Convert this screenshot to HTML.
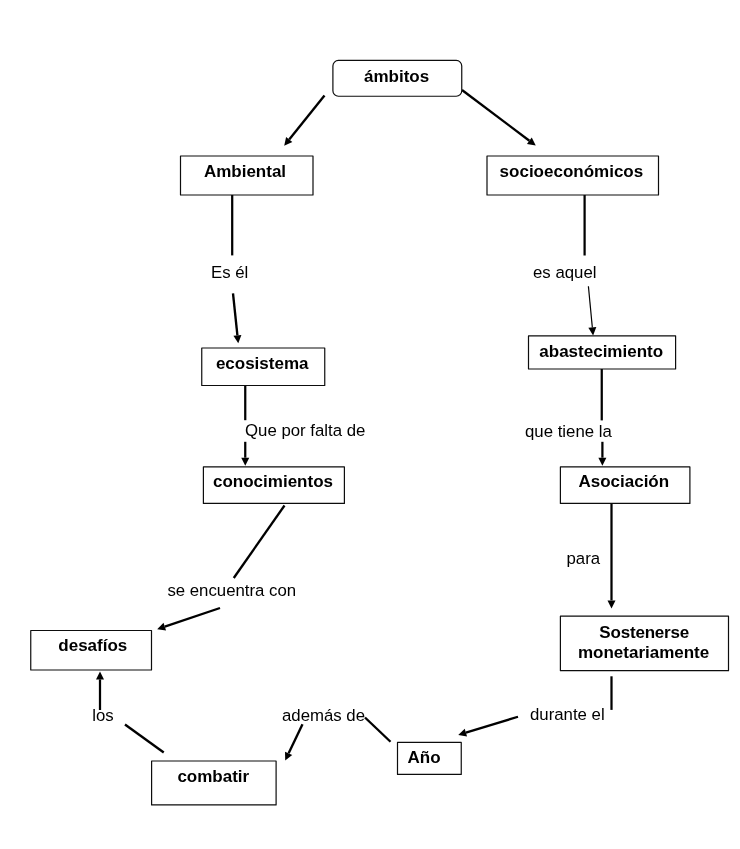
<!DOCTYPE html>
<html lang="es"><head><meta charset="utf-8"><title>Mapa conceptual</title>
<style>
html,body{margin:0;padding:0;background:#fff;}
svg{display:block;filter:grayscale(1);}
text{font-family:"Liberation Sans",sans-serif;fill:#000;}
.b{font-weight:bold;font-size:17px;}
.l{font-size:16.8px;}
</style></head><body>
<svg width="740" height="849" viewBox="0 0 740 849">
<rect width="740" height="849" fill="#fff"/>

<line x1="324.5" y1="95.5" x2="289.21" y2="139.46" stroke="#000" stroke-width="2.35"/>
<polygon points="284.2,145.7 286.09,136.96 292.33,141.97" fill="#000"/>
<line x1="462" y1="90" x2="529.36" y2="140.69" stroke="#000" stroke-width="2.35"/>
<polygon points="535.75,145.5 526.95,143.89 531.76,137.49" fill="#000"/>
<line x1="232.2" y1="195" x2="232.2" y2="255.4" stroke="#000" stroke-width="2.25"/>
<line x1="233" y1="293.4" x2="237.41" y2="335.34" stroke="#000" stroke-width="2.35"/>
<polygon points="238.25,343.3 233.43,335.76 241.39,334.93" fill="#000"/>
<line x1="584.6" y1="195" x2="584.6" y2="255.5" stroke="#000" stroke-width="2.25"/>
<line x1="588.4" y1="286.3" x2="592.34" y2="327.44" stroke="#000" stroke-width="1.2"/>
<polygon points="593.1,335.4 588.36,327.82 596.32,327.06" fill="#000"/>
<line x1="245.25" y1="385.5" x2="245.25" y2="420.2" stroke="#000" stroke-width="2.25"/>
<line x1="245.25" y1="441.8" x2="245.25" y2="457.70" stroke="#000" stroke-width="2.25"/>
<polygon points="245.25,465.7 241.25,457.70 249.25,457.70" fill="#000"/>
<line x1="601.75" y1="369" x2="601.75" y2="420.4" stroke="#000" stroke-width="2.25"/>
<line x1="602.4" y1="441.8" x2="602.40" y2="457.70" stroke="#000" stroke-width="2.25"/>
<polygon points="602.4,465.7 598.40,457.70 606.40,457.70" fill="#000"/>
<line x1="611.5" y1="503" x2="611.50" y2="600.40" stroke="#000" stroke-width="2.25"/>
<polygon points="611.5,608.4 607.50,600.40 615.50,600.40" fill="#000"/>
<line x1="284.5" y1="505.5" x2="233.75" y2="578" stroke="#000" stroke-width="2.35"/>
<line x1="220" y1="608" x2="164.78" y2="626.64" stroke="#000" stroke-width="2.35"/>
<polygon points="157.2,629.2 163.50,622.85 166.06,630.43" fill="#000"/>
<line x1="100" y1="710" x2="100.00" y2="679.40" stroke="#000" stroke-width="2.25"/>
<polygon points="100,671.4 104.00,679.40 96.00,679.40" fill="#000"/>
<line x1="125" y1="724.5" x2="163.75" y2="752.5" stroke="#000" stroke-width="2.35"/>
<line x1="302.5" y1="724.2" x2="288.63" y2="753.37" stroke="#000" stroke-width="2.35"/>
<polygon points="285.2,760.6 285.02,751.66 292.25,755.09" fill="#000"/>
<line x1="365" y1="717.5" x2="390.5" y2="741.75" stroke="#000" stroke-width="2.35"/>
<line x1="518" y1="716.75" x2="465.90" y2="732.66" stroke="#000" stroke-width="2.35"/>
<polygon points="458.25,735 464.73,728.84 467.07,736.49" fill="#000"/>
<line x1="611.5" y1="676.3" x2="611.5" y2="709.9" stroke="#000" stroke-width="2.25"/>
<rect x="332.9" y="60.45" width="128.85" height="35.80" rx="5.5" fill="#fff" stroke="#0d0d0d" stroke-width="1.2" stroke-linejoin="round"/>
<text class="b" x="396.6" y="82.0" text-anchor="middle">ámbitos</text>
<rect x="180.5" y="156" width="132.50" height="39.00" rx="0" fill="#fff" stroke="#0d0d0d" stroke-width="1.2" stroke-linejoin="round"/>
<text class="b" x="245.0" y="177.0" text-anchor="middle">Ambiental</text>
<rect x="487" y="156" width="171.50" height="39.00" rx="0" fill="#fff" stroke="#0d0d0d" stroke-width="1.2" stroke-linejoin="round"/>
<text class="b" x="571.4" y="177.0" text-anchor="middle">socioeconómicos</text>
<rect x="201.75" y="348" width="123.00" height="37.50" rx="0" fill="#fff" stroke="#0d0d0d" stroke-width="1.2" stroke-linejoin="round"/>
<text class="b" x="262.2" y="368.6" text-anchor="middle">ecosistema</text>
<rect x="528.5" y="335.8" width="147.10" height="33.20" rx="0" fill="#fff" stroke="#0d0d0d" stroke-width="1.2" stroke-linejoin="round"/>
<text class="b" x="601.2" y="357.0" text-anchor="middle">abastecimiento</text>
<rect x="203.4" y="466.9" width="141.00" height="36.50" rx="0" fill="#fff" stroke="#0d0d0d" stroke-width="1.2" stroke-linejoin="round"/>
<text class="b" x="273.0" y="487.35" text-anchor="middle">conocimientos</text>
<rect x="560.4" y="466.9" width="129.50" height="36.50" rx="0" fill="#fff" stroke="#0d0d0d" stroke-width="1.2" stroke-linejoin="round"/>
<text class="b" x="623.8" y="487.4" text-anchor="middle">Asociación</text>
<rect x="30.75" y="630.5" width="120.75" height="39.50" rx="0" fill="#fff" stroke="#0d0d0d" stroke-width="1.2" stroke-linejoin="round"/>
<text class="b" x="92.8" y="651.2" text-anchor="middle">desafíos</text>
<rect x="560.4" y="616.2" width="168.10" height="54.50" rx="0" fill="#fff" stroke="#0d0d0d" stroke-width="1.2" stroke-linejoin="round"/>
<text class="b" x="644.2" y="638.4" text-anchor="middle" letter-spacing="-0.2">Sostenerse</text>
<text class="b" x="643.6" y="657.8" text-anchor="middle">monetariamente</text>
<rect x="397.5" y="742.4" width="63.75" height="32.00" rx="0" fill="#fff" stroke="#0d0d0d" stroke-width="1.2" stroke-linejoin="round"/>
<text class="b" x="424" y="763" text-anchor="middle">Año</text>
<rect x="151.6" y="761.0" width="124.50" height="43.90" rx="0" fill="#fff" stroke="#0d0d0d" stroke-width="1.2" stroke-linejoin="round"/>
<text class="b" x="213.3" y="781.9" text-anchor="middle">combatir</text>
<text class="l" x="211" y="278">Es él</text>
<text class="l" x="533" y="278.1">es aquel</text>
<text class="l" x="245" y="436.3">Que por falta de</text>
<text class="l" x="525" y="436.8">que tiene la</text>
<text class="l" x="566.5" y="563.6">para</text>
<text class="l" x="167.4" y="596">se encuentra con</text>
<text class="l" x="92.2" y="720.5">los</text>
<text class="l" x="282" y="720.6">además de</text>
<text class="l" x="530" y="720.3">durante el</text>
</svg></body></html>
